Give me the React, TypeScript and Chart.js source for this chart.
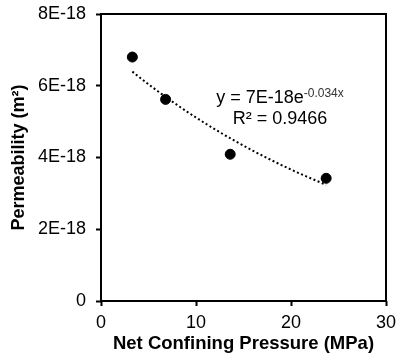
import { useEffect, useRef } from "react";
import { Chart, registerables } from "chart.js";

Chart.register(...registerables);

// Measured permeability vs. net confining pressure
const pressureMPa = [3.3, 6.8, 13.6, 23.7];
const permeabilityM2 = [6.8e-18, 5.62e-18, 4.09e-18, 3.42e-18];

const xTickValues = [0, 10, 20, 30];
const yTickValues = [0, 2e-18, 4e-18, 6e-18, 8e-18];
const yTickLabels = ["0", "2E-18", "4E-18", "6E-18", "8E-18"];

const xTitle = "Net Confining Pressure (MPa)";
const yTitle = "Permeability (m²)";
const equationMain = "y = 7E-18e";
const equationExponent = "-0.034x";
const rSquaredText = "R² = 0.9466";

const FONT = "'Liberation Sans', Arial, sans-serif";

// Least-squares exponential fit y = a·e^(b·x), fitted on ln(y)
function exponentialFit(xs: number[], ys: number[]) {
  const n = xs.length;
  const ls = ys.map((v) => Math.log(v));
  const mx = xs.reduce((s, v) => s + v, 0) / n;
  const ml = ls.reduce((s, v) => s + v, 0) / n;
  let sxx = 0;
  let sxy = 0;
  for (let i = 0; i < n; i++) {
    sxx += (xs[i] - mx) * (xs[i] - mx);
    sxy += (xs[i] - mx) * (ls[i] - ml);
  }
  const b = sxy / sxx;
  const lnA = ml - b * mx;
  return (x: number) => Math.exp(lnA + b * x);
}

function trendPoints() {
  const f = exponentialFit(pressureMPa, permeabilityM2);
  const x0 = Math.min(...pressureMPa);
  const x1 = Math.max(...pressureMPa);
  const steps = 60;
  const pts: { x: number; y: number }[] = [];
  for (let i = 0; i <= steps; i++) {
    const x = x0 + ((x1 - x0) * i) / steps;
    pts.push({ x, y: f(x) });
  }
  return pts;
}

const frameAndEquation = {
  id: "frameAndEquation",
  afterDraw(chart: any) {
    const { ctx, chartArea } = chart;
    const { left, top, right, bottom } = chartArea;
    ctx.save();
    ctx.strokeStyle = "#000";
    ctx.lineWidth = 2;
    ctx.strokeRect(left, top, right - left, bottom - top);

    // Trendline equation and R², centred over the upper right of the plot
    const cx = left + (right - left) * 0.628;
    ctx.fillStyle = "#000";
    ctx.textBaseline = "alphabetic";
    ctx.textAlign = "left";
    const mainFont = `18px ${FONT}`;
    const supFont = `12px ${FONT}`;
    ctx.font = mainFont;
    const wMain = ctx.measureText(equationMain).width;
    ctx.font = supFont;
    const wSup = ctx.measureText(equationExponent).width;
    const line1Y = top + (bottom - top) * 0.309;
    const startX = cx - (wMain + wSup) / 2;
    ctx.font = mainFont;
    ctx.fillText(equationMain, startX, line1Y);
    ctx.font = supFont;
    ctx.fillStyle = "#333";
    ctx.fillText(equationExponent, startX + wMain, line1Y - 6);
    ctx.fillStyle = "#000";
    ctx.font = mainFont;
    ctx.textAlign = "center";
    const line2Y = top + (bottom - top) * 0.384;
    ctx.fillText(rSquaredText, cx, line2Y);
    ctx.restore();
  },
};

export default function App() {
  const canvasRef = useRef<HTMLCanvasElement | null>(null);

  useEffect(() => {
    document.body.style.margin = "0";
    const canvas = canvasRef.current;
    if (!canvas) return;

    const chart = new Chart(canvas, {
      type: "scatter",
      data: {
        datasets: [
          {
            label: "Permeability",
            data: pressureMPa.map((x, i) => ({ x, y: permeabilityM2[i] })),
            backgroundColor: "#000",
            borderColor: "#000",
            pointRadius: 5,
            pointHoverRadius: 5,
            showLine: false,
          },
          {
            label: "Expon. trend",
            type: "line",
            data: trendPoints(),
            borderColor: "#000",
            borderWidth: 2,
            borderDash: [2, 2.5],
            pointRadius: 0,
            fill: false,
            tension: 0,
          } as any,
        ],
      },
      options: {
        animation: false,
        responsive: false,
        devicePixelRatio: 1,
        layout: { padding: { top: 14, right: 12, left: 0, bottom: 0 } },
        plugins: {
          legend: { display: false },
          tooltip: { enabled: false },
        },
        scales: {
          x: {
            type: "linear",
            min: 0,
            max: 30,
            afterBuildTicks: (scale: any) => {
              scale.ticks = xTickValues.map((value) => ({ value }));
            },
            afterFit: (scale: any) => {
              scale.height = 52;
              scale.paddingLeft = 0;
              scale.paddingRight = 0;
            },
            border: { display: false },
            grid: {
              drawOnChartArea: false,
              drawTicks: true,
              tickLength: 5,
              tickWidth: 2,
              tickColor: "#000",
            },
            ticks: {
              color: "#000",
              font: { family: FONT, size: 18 },
              padding: 6,
              maxRotation: 0,
            },
            title: {
              display: true,
              text: xTitle,
              color: "#000",
              font: { family: FONT, size: 18.5, weight: "bold", lineHeight: 1 },
              padding: { top: 0, bottom: 0 },
            },
          },
          y: {
            type: "linear",
            min: 0,
            max: 8e-18,
            afterBuildTicks: (scale: any) => {
              scale.ticks = yTickValues.map((value) => ({ value }));
            },
            afterFit: (scale: any) => {
              scale.width = 101;
              scale.paddingTop = 0;
              scale.paddingBottom = 0;
            },
            border: { display: false },
            grid: {
              drawOnChartArea: false,
              drawTicks: true,
              tickLength: 5,
              tickWidth: 2,
              tickColor: "#000",
            },
            ticks: {
              color: "#000",
              font: { family: FONT, size: 18 },
              padding: 10,
              callback: (_v: any, i: number) => yTickLabels[i],
            },
            title: {
              display: true,
              text: yTitle,
              color: "#000",
              font: { family: FONT, size: 18, weight: "bold", lineHeight: 1 },
              padding: { top: 10, bottom: 0 },
            },
          },
        },
      },
      plugins: [frameAndEquation],
    });

    return () => chart.destroy();
  }, []);

  return (
    <div style={{ position: "absolute", left: 0, top: 0, width: 398, height: 353 }}>
      <canvas ref={canvasRef} width={398} height={353} />
    </div>
  );
}
